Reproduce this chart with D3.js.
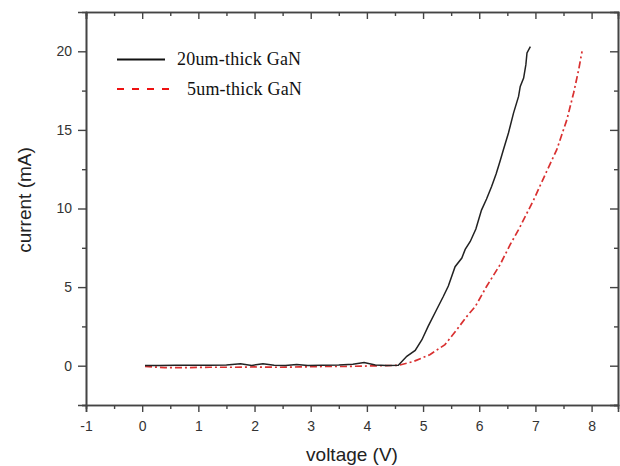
<!DOCTYPE html>
<html>
<head>
<meta charset="utf-8">
<script src="https://cdn.jsdelivr.net/npm/d3@7"></script>
<style>
  body { margin: 0; background: #fff; }
  svg { display: block; }
</style>
</head>
<body>
<div id="chart"></div>
<script>
var voltage20 = [0.05, 0.3, 0.6, 0.9, 1.2, 1.5, 1.75, 1.95, 2.15, 2.35, 2.55, 2.75, 2.95, 3.2, 3.5, 3.75, 3.95, 4.15, 4.35, 4.56, 4.71, 4.86, 4.98, 5.09, 5.24, 5.36, 5.45, 5.57, 5.69, 5.75, 5.84, 5.94, 6.04, 6.13, 6.22, 6.30, 6.37, 6.43, 6.52, 6.61, 6.70, 6.73, 6.79, 6.83, 6.85, 6.91];
var current20 = [0.02, 0.02, 0.03, 0.03, 0.03, 0.04, 0.12, 0.02, 0.12, 0.03, 0.02, 0.08, 0.02, 0.03, 0.05, 0.1, 0.2, 0.05, 0.02, 0.03, 0.6, 0.97, 1.65, 2.5, 3.56, 4.4, 5.07, 6.3, 6.85, 7.4, 7.9, 8.7, 9.9, 10.6, 11.4, 12.2, 13.0, 13.74, 14.8, 16.07, 17.13, 17.77, 18.3, 19.15, 19.9, 20.3];

var voltage5 = [0.05, 0.4, 0.8, 1.2, 1.6, 2.0, 2.4, 2.8, 3.2, 3.6, 4.0, 4.3, 4.56, 4.83, 5.12, 5.39, 5.60, 5.78, 5.93, 6.13, 6.37, 6.55, 6.70, 6.97, 7.20, 7.38, 7.56, 7.68, 7.77, 7.83];
var current5 = [-0.05, -0.12, -0.12, -0.1, -0.1, -0.08, -0.1, -0.08, -0.05, -0.05, -0.02, 0, 0.02, 0.27, 0.7, 1.34, 2.29, 3.14, 3.77, 5.04, 6.42, 7.7, 8.65, 10.56, 12.36, 13.74, 15.65, 17.35, 18.83, 20.0];

var xTicks = [-1, 0, 1, 2, 3, 4, 5, 6, 7, 8];
var yTicks = [0, 5, 10, 15, 20];
var legendLabels = ["20um-thick GaN", "5um-thick GaN"];

function draw() {
    var w = 620, h = 466;
    var left = 86, right = 618, top = 12, bottom = 405;

    var svg = d3.select("#chart")
        .append("svg")
        .attr("width", w)
        .attr("height", h);

    var x = d3.scaleLinear().domain([-1, 8.47]).range([left, right]);
    var y = d3.scaleLinear().domain([-2.5, 22.5]).range([bottom, top]);

    var xMinor = d3.range(-0.5, 8.5, 1);
    var yMinor = d3.range(-2.5, 22.5, 5);

    function styleAxis(g) {
        g.selectAll("path.domain").attr("stroke", "#444").attr("stroke-width", 1.6);
        g.selectAll(".tick line").attr("stroke", "#444").attr("stroke-width", 1.4);
        g.selectAll(".tick text")
            .attr("fill", "#333")
            .style("font-family", "'Liberation Sans', Arial, sans-serif")
            .style("font-size", "14px");
    }

    // plain hyphen for negative numbers, like the original
    var fmt = function(d) { return String(d); };

    // bottom axis (outward ticks)
    svg.append("g")
        .attr("transform", "translate(0," + bottom + ")")
        .call(d3.axisBottom(x).tickValues(xTicks).tickSize(7).tickPadding(9).tickFormat(fmt))
        .call(styleAxis);
    svg.append("g")
        .attr("transform", "translate(0," + bottom + ")")
        .call(d3.axisBottom(x).tickValues(xMinor).tickSize(4).tickFormat(""))
        .call(styleAxis);

    // top axis (inward ticks)
    svg.append("g")
        .attr("transform", "translate(0," + top + ")")
        .call(d3.axisBottom(x).tickValues(xTicks).tickSize(7).tickFormat(""))
        .call(styleAxis);
    svg.append("g")
        .attr("transform", "translate(0," + top + ")")
        .call(d3.axisBottom(x).tickValues(xMinor).tickSize(4).tickFormat(""))
        .call(styleAxis);

    // left axis (outward ticks)
    svg.append("g")
        .attr("transform", "translate(" + left + ",0)")
        .call(d3.axisLeft(y).tickValues(yTicks).tickSize(8).tickPadding(6).tickFormat(fmt))
        .call(styleAxis);
    svg.append("g")
        .attr("transform", "translate(" + left + ",0)")
        .call(d3.axisLeft(y).tickValues(yMinor).tickSize(4).tickFormat(""))
        .call(styleAxis);

    // right axis (inward ticks)
    svg.append("g")
        .attr("transform", "translate(" + right + ",0)")
        .call(d3.axisLeft(y).tickValues(yTicks).tickSize(8).tickFormat(""))
        .call(styleAxis);
    svg.append("g")
        .attr("transform", "translate(" + right + ",0)")
        .call(d3.axisLeft(y).tickValues(yMinor).tickSize(4).tickFormat(""))
        .call(styleAxis);

    // the curves
    var line = d3.line()
        .x(function(d) { return x(d[0]); })
        .y(function(d) { return y(d[1]); });

    svg.append("path")
        .datum(d3.zip(voltage5, current5))
        .attr("d", line)
        .attr("fill", "none")
        .attr("stroke", "#d93030")
        .attr("stroke-width", 1.7)
        .attr("stroke-dasharray", "7,3,2,3");

    svg.append("path")
        .datum(d3.zip(voltage20, current20))
        .attr("d", line)
        .attr("fill", "none")
        .attr("stroke", "#222")
        .attr("stroke-width", 1.5);

    // legend
    var lg = svg.append("g");
    lg.append("line")
        .attr("x1", 117).attr("x2", 165)
        .attr("y1", 59.5).attr("y2", 59.5)
        .attr("stroke", "#111").attr("stroke-width", 2);
    lg.append("line")
        .attr("x1", 117).attr("x2", 169)
        .attr("y1", 89).attr("y2", 89)
        .attr("stroke", "#ee1111").attr("stroke-width", 2)
        .attr("stroke-dasharray", "7,8");
    lg.append("text")
        .attr("x", 177).attr("y", 65)
        .text(legendLabels[0]);
    lg.append("text")
        .attr("x", 187).attr("y", 95)
        .text(legendLabels[1]);
    lg.selectAll("text")
        .attr("fill", "#111")
        .style("font-family", "'Liberation Serif', 'Times New Roman', serif")
        .style("font-size", "18px")
        .style("letter-spacing", "0.2px");

    // axis titles
    svg.append("text")
        .attr("x", (left + right) / 2)
        .attr("y", 461)
        .attr("text-anchor", "middle")
        .attr("fill", "#222")
        .style("font-family", "'Liberation Sans', Arial, sans-serif")
        .style("font-size", "19px")
        .text("voltage (V)");

    svg.append("text")
        .attr("transform", "translate(31,200) rotate(-90)")
        .attr("text-anchor", "middle")
        .attr("fill", "#222")
        .style("font-family", "'Liberation Sans', Arial, sans-serif")
        .style("font-size", "19px")
        .text("current (mA)");
}

window.onload = draw;
</script>
</body>
</html>
